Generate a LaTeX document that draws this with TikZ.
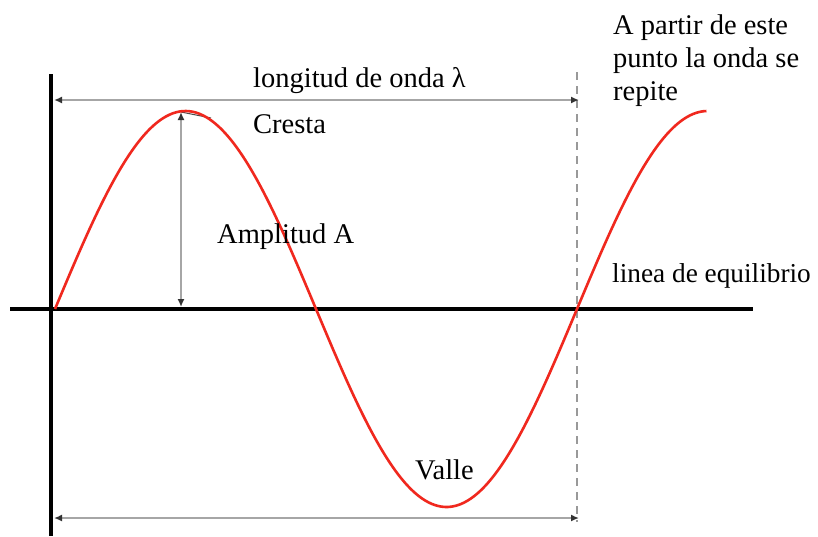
\documentclass[tikz,border=0pt]{standalone}
\usepackage{fontspec}
\setmainfont{Liberation Serif}
\usetikzlibrary{arrows.meta}
\definecolor{wavered}{RGB}{240,40,30}
\begin{document}
\begin{tikzpicture}[x=1pt,y=-1pt,
  axisline/.style={line width=4pt,black},
  wave/.style={line width=2.6pt,wavered},
  dimline/.style={line width=1.6pt,black!35,{Latex[length=8pt,width=7pt,color=black!80]}-{Latex[length=8pt,width=7pt,color=black!80]}},
  guide/.style={line width=1.8pt,black!40,dash pattern=on 8pt off 6pt},
  lbl/.style={inner sep=0pt,anchor=base west,font=\fontsize{28.5}{33}\selectfont,align=left}]
\useasboundingbox (0,0) rectangle (818,536);
\fill[white] (0,0) rectangle (818,536);
% coordinates
\coordinate (vtop) at (51,74);
\coordinate (vbot) at (51,536);
\coordinate (hl) at (10,309);
\coordinate (hr) at (753,309);
\coordinate (dtop) at (577,72);
\coordinate (dbot) at (577,522);
\coordinate (tl) at (54,100);
\coordinate (tr) at (579,100);
\coordinate (bl) at (54,518);
\coordinate (br) at (579,518);
\coordinate (crest) at (181,112);
\coordinate (crestend) at (211,118);
\coordinate (ampb) at (181,307);
% guides
\draw[guide] (dtop) -- (dbot);
\draw[dimline] (tl) -- (tr);
\draw[dimline] (bl) -- (br);
\draw[dimline] (crest) -- (ampb);
\draw[line width=1pt,black!70] (crest) -- (crestend);
% axes
\draw[axisline] (vtop) -- (vbot);
\draw[axisline] (hl) -- (hr);
% wave
\draw[wave,smooth,samples=200,domain=0:1.25] plot ({55+522*\x},{309-198*sin(360*\x)});
% labels
\node[lbl] (lambda) at (253,87) {longitud de onda λ};
\node[lbl] (cresta) at (253,133) {Cresta};
\node[lbl] (rep) at (613,100) {A partir de este\\punto la onda se\\repite};
\node[lbl,font=\fontsize{27.3}{33}\selectfont] (equil) at (612,282) {linea de equilibrio};
\node[lbl] (amp) at (217,243) {Amplitud A};
\node[lbl] (valle) at (415,479) {Valle};
\end{tikzpicture}
\end{document}
